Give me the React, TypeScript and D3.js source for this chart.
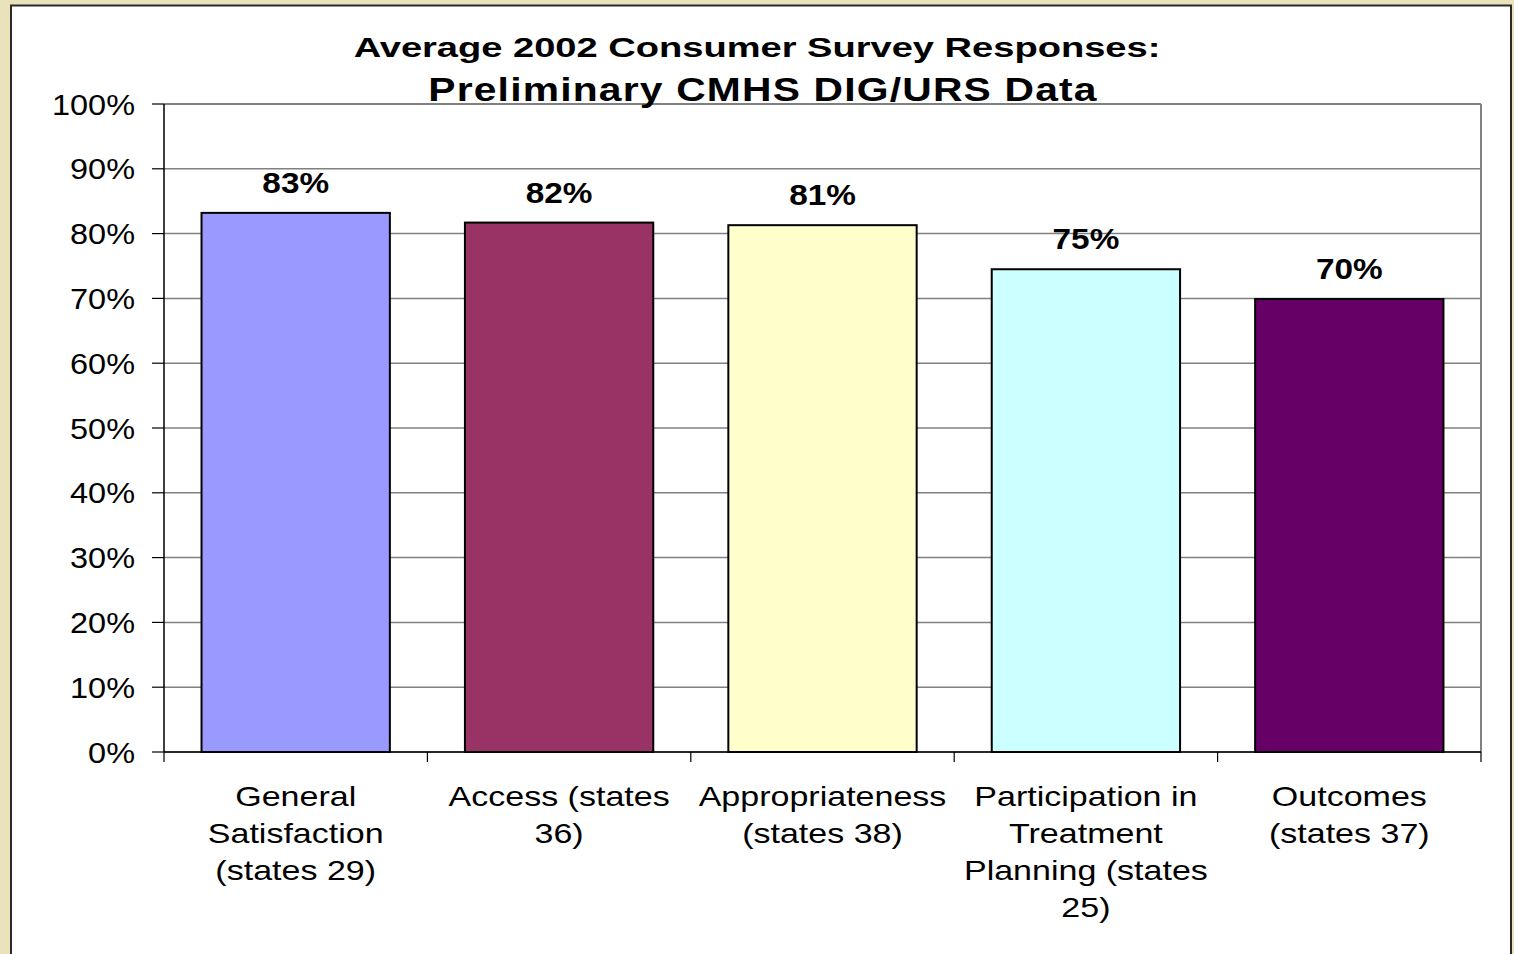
import React from "react";
import * as d3 from "d3";

const titleLines = ["Average 2002 Consumer Survey Responses:", "Preliminary CMHS DIG/URS Data"];
const categories = [
  ["General", "Satisfaction", "(states 29)"],
  ["Access (states", "36)"],
  ["Appropriateness", "(states 38)"],
  ["Participation in", "Treatment", "Planning (states", "25)"],
  ["Outcomes", "(states 37)"],
];
const values = [83.2, 81.7, 81.3, 74.5, 69.9];
const valueLabels = ["83%", "82%", "81%", "75%", "70%"];
const barColors = ["#9999FF", "#993366", "#FFFFCC", "#CCFFFF", "#660066"];
const yTicks = [0, 10, 20, 30, 40, 50, 60, 70, 80, 90, 100];

const W = 1514;
const H = 954;
const plot = { left: 164, right: 1481, top: 104, bottom: 752 };
const FONT = "'Liberation Sans', Arial, sans-serif";

export default function App() {
  const keys = categories.map((_, i) => String(i));
  const x = d3.scaleBand<string>().domain(keys).range([plot.left, plot.right]).paddingInner(0.285).paddingOuter(0.1425);
  const xb = d3.scaleBand<string>().domain(keys).range([plot.left, plot.right]);
  const y = d3.scaleLinear().domain([0, 100]).range([plot.bottom, plot.top]);
  const tickBoundaries = d3.range(keys.length + 1).map((i) => plot.left + i * xb.step());

  return (
    <svg width={W} height={H} style={{ position: "absolute", left: 0, top: 0 }} xmlns="http://www.w3.org/2000/svg">
      <rect x={0} y={0} width={W} height={H} fill="#E9E2BA" />
      <rect x={11} y={5.5} width={1500} height={H + 20} fill="#ffffff" stroke="#2a2a2a" strokeWidth={2} />

      {/* gridlines */}
      {yTicks.map((t) => (
        <line key={"g" + t} x1={plot.left} x2={plot.right} y1={y(t)} y2={y(t)} stroke="#808080" strokeWidth={1.5} />
      ))}
      {/* plot border right and top */}
      <line x1={plot.right} x2={plot.right} y1={plot.top} y2={plot.bottom} stroke="#808080" strokeWidth={2} />
      <line x1={plot.left} x2={plot.right} y1={plot.top} y2={plot.top} stroke="#808080" strokeWidth={2} />

      {/* bars */}
      {values.map((v, i) => (
        <rect
          key={"b" + i}
          x={x(String(i))}
          y={y(v)}
          width={x.bandwidth()}
          height={y(0) - y(v)}
          fill={barColors[i]}
          stroke="#000000"
          strokeWidth={2}
        />
      ))}

      {/* axes */}
      <line x1={plot.left} x2={plot.left} y1={plot.top} y2={plot.bottom} stroke="#000000" strokeWidth={1.5} />
      <line x1={plot.left} x2={plot.right} y1={plot.bottom} y2={plot.bottom} stroke="#000000" strokeWidth={1.5} />
      {yTicks.map((t) => (
        <line key={"yt" + t} x1={plot.left - 12} x2={plot.left} y1={y(t)} y2={y(t)} stroke="#000000" strokeWidth={1.2} />
      ))}
      {tickBoundaries.map((bx, i) => (
        <line key={"xt" + i} x1={bx} x2={bx} y1={plot.bottom} y2={plot.bottom + 10} stroke="#000000" strokeWidth={1.2} />
      ))}

      {/* y tick labels */}
      {yTicks.map((t) => (
        <text
          key={"yl" + t}
          transform={`translate(135,${y(t) + 10.5}) scale(1.12,1)`}
          textAnchor="end"
          fontFamily={FONT}
          fontSize={29}
          fill="#000"
        >
          {t + "%"}
        </text>
      ))}

      {/* value labels */}
      {values.map((v, i) => (
        <text
          key={"vl" + i}
          transform={`translate(${x(String(i))! + x.bandwidth() / 2},${y(v) - 20}) scale(1.15,1)`}
          textAnchor="middle"
          fontFamily={FONT}
          fontWeight="bold"
          fontSize={29}
          fill="#000"
        >
          {valueLabels[i]}
        </text>
      ))}

      {/* category labels */}
      {categories.map((lines, i) => (
        <g key={"cl" + i} transform={`translate(${xb(String(i))! + xb.bandwidth() / 2},806) scale(1.26,1)`}>
          {lines.map((ln, j) => (
            <text key={j} x={0} y={j * 37} textAnchor="middle" fontFamily={FONT} fontSize={27} fill="#000">
              {ln}
            </text>
          ))}
        </g>
      ))}

      {/* title */}
      <text
        transform="translate(757,57) scale(1.36,1)"
        textAnchor="middle"
        fontFamily={FONT}
        fontWeight="bold"
        fontSize={28}
        fill="#000"
      >
        {titleLines[0]}
      </text>
      <text
        transform="translate(763,101) scale(1.2,1)"
        textAnchor="middle"
        fontFamily={FONT}
        fontWeight="bold"
        fontSize={34}
        letterSpacing={1.0}
        fill="#000"
      >
        {titleLines[1]}
      </text>
    </svg>
  );
}
